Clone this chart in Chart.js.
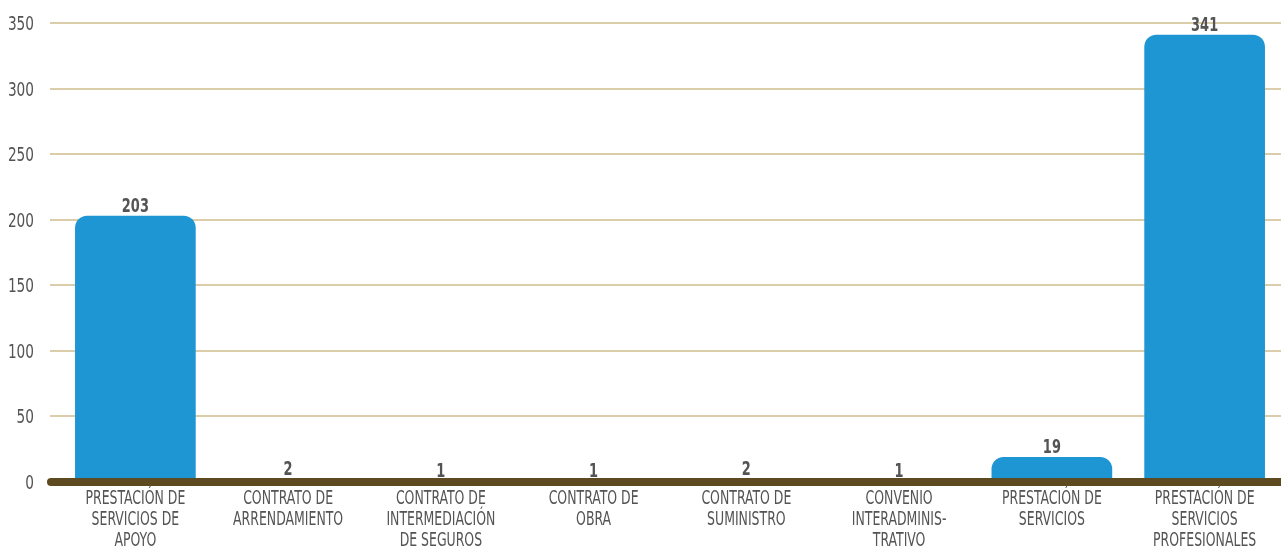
<!DOCTYPE html>
<html>
<head>
<meta charset="utf-8">
<script src="https://cdn.jsdelivr.net/npm/chart.js@4/dist/chart.umd.min.js"></script>
<style>
  html, body { margin: 0; padding: 0; background: #fff; }
  #wrap { width: 1281px; height: 548px; position: relative; }
</style>
</head>
<body>
<div id="wrap"><canvas id="chart"></canvas></div>
<script>
var categories = [
    ['PRESTACIÓN DE', 'SERVICIOS DE', 'APOYO'],
    ['CONTRATO DE', 'ARRENDAMIENTO'],
    ['CONTRATO DE', 'INTERMEDIACIÓN', 'DE SEGUROS'],
    ['CONTRATO DE', 'OBRA'],
    ['CONTRATO DE', 'SUMINISTRO'],
    ['CONVENIO', 'INTERADMINIS-', 'TRATIVO'],
    ['PRESTACIÓN DE', 'SERVICIOS'],
    ['PRESTACIÓN DE', 'SERVICIOS', 'PROFESIONALES']
];
var contratos = [203, 2, 1, 1, 2, 1, 19, 341];
var yMax = 350;
var yStep = 50;

var fontFamily = "'DejaVu Sans Condensed', 'Liberation Sans Narrow', sans-serif";
var textColor = '#545454';

// condensed text: the original uses a very narrow face, so squeeze horizontally
function narrowText(ctx, text, x, y, sx) {
    ctx.save();
    ctx.translate(x, y);
    ctx.scale(sx, 1);
    ctx.fillText(text, 0, 0);
    ctx.restore();
}

// thick brown line along zero, drawn over the bars
var baseLine = {
    id: 'baseLine',
    afterDatasetsDraw: function(chart) {
        var ctx = chart.ctx;
        var y = chart.scales.y.getPixelForValue(0);
        ctx.save();
        ctx.strokeStyle = '#5e4a20';
        ctx.lineWidth = 8;
        ctx.lineCap = 'round';
        ctx.beginPath();
        ctx.moveTo(51, y);
        ctx.lineTo(chart.width + 10, y);
        ctx.stroke();
        ctx.restore();
    }
};

// tick labels + values above bars
var labelsPlugin = {
    id: 'labelsPlugin',
    afterDraw: function(chart) {
        var ctx = chart.ctx;
        var xs = chart.scales.x;
        var ys = chart.scales.y;
        var meta = chart.getDatasetMeta(0);
        ctx.save();
        ctx.fillStyle = textColor;
        ctx.textAlign = 'center';
        ctx.textBaseline = 'alphabetic';

        ctx.font = 'bold 20px ' + fontFamily;
        meta.data.forEach(function(bar, i) {
            narrowText(ctx, String(contratos[i]), bar.x, bar.y - 4, 0.72);
        });

        ctx.font = '19px ' + fontFamily;
        var top = chart.chartArea.bottom;
        categories.forEach(function(lines, i) {
            var x = xs.getPixelForTick(i);
            lines.forEach(function(line, j) {
                narrowText(ctx, line, x, top + 22 + j * 21, 0.73);
            });
        });

        ctx.textAlign = 'right';
        ys.ticks.forEach(function(t) {
            var y = ys.getPixelForValue(t.value);
            narrowText(ctx, String(t.value), 34, y + 7, 0.8);
        });
        ctx.restore();
    }
};

var ctx = document.getElementById('chart');
var myBarChart = new Chart(ctx, {
    type: 'bar',
    data: {
        labels: categories,
        datasets: [{
            data: contratos,
            backgroundColor: '#1e96d4',
            borderWidth: 0,
            borderRadius: 12,
            borderSkipped: 'start',
            categoryPercentage: 1,
            barPercentage: 0.79
        }]
    },
    options: {
        responsive: true,
        maintainAspectRatio: false,
        animation: false,
        layout: { padding: { top: 23, right: 0, left: 0, bottom: 0 } },
        plugins: {
            legend: { display: false },
            tooltip: { enabled: false }
        },
        scales: {
            x: {
                grid: { display: false, drawTicks: false },
                border: { display: false },
                ticks: { display: false },
                afterFit: function(scale) { scale.height = 66; }
            },
            y: {
                min: 0,
                max: yMax,
                grid: {
                    color: '#dbcda9',
                    lineWidth: 2,
                    drawTicks: true,
                    tickLength: 9,
                    tickColor: '#dbcda9'
                },
                border: { display: false },
                ticks: { stepSize: yStep, display: false },
                afterFit: function(scale) { scale.width = 59; }
            }
        }
    },
    plugins: [baseLine, labelsPlugin]
});
</script>
</body>
</html>
